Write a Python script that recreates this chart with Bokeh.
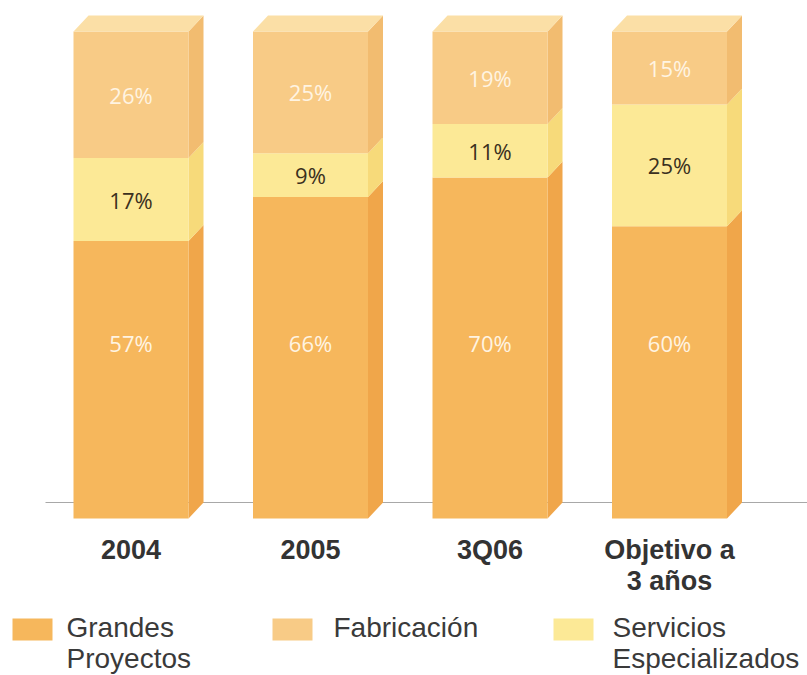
from bokeh.plotting import figure
from bokeh.models import Range1d
from bokeh.core.properties import value
from bokeh.embed import file_html
from bokeh.resources import INLINE

# ---- data ----
categories = ["2004", "2005", "3Q06", "Objetivo a\n3 años"]
grandes = [57, 66, 70, 60]
servicios = [17, 9, 11, 25]
fabricacion = [26, 25, 19, 15]
series_names = ["Grandes\nProyectos", "Fabricación", "Servicios\nEspecializados"]

# ---- styling / layout ----
W, H = 807, 675
PX_X = 179.5       # px per category step
X0 = 130.5         # px of first bar centre
PX_Y = 4.87        # px per percent
Y0 = 518           # px of 0 %

def X(px):
    return (px - X0) / PX_X

def Y(py):
    return (Y0 - py) / PX_Y

bar_w = 115 / PX_X
dx = 15 / PX_X
dy = 16 / PX_Y

front_cols = {"g": "#F6B75C", "s": "#FCE996", "f": "#F8CB86"}
side_cols = {"g": "#F0A64A", "s": "#F7DA7A", "f": "#F2BC70"}
top_col = "#FBDFA6"

p = figure(width=W, height=H, x_range=Range1d(X(0), X(W)), y_range=Range1d(Y(H), Y(0)),
           output_backend="svg", toolbar_location=None, min_border=0)
p.axis.visible = False
p.grid.visible = False
p.outline_line_color = None
p.background_fill_color = "white"

# baseline (back plane)
p.line([X(45), X(W)], [dy, dy], line_color="#A8A8A8", line_width=1.2)

xs = list(range(len(categories)))
stack = [("g", grandes), ("s", servicios), ("f", fabricacion)]
bottom = [0] * len(xs)
for key, vals in stack:
    tops = [b + v for b, v in zip(bottom, vals)]
    left = [x - bar_w / 2 for x in xs]
    right = [x + bar_w / 2 for x in xs]
    sx = [[r, r + dx, r + dx, r] for r in right]
    sy = [[b, b + dy, t + dy, t] for b, t in zip(bottom, tops)]
    p.patches(sx, sy, fill_color=side_cols[key], line_color=None)
    p.quad(left=left, right=right, bottom=bottom, top=tops,
           fill_color=front_cols[key], line_color=None)
    bottom = tops

# top faces
left = [x - bar_w / 2 for x in xs]
right = [x + bar_w / 2 for x in xs]
tx = [[l, r, r + dx, l + dx] for l, r in zip(left, right)]
ty = [[t, t, t + dy, t + dy] for t in bottom]
p.patches(tx, ty, fill_color=top_col, line_color=None)

# value labels
lab_font = value("Open Sans")
g_y = [36] * len(xs)
s_y = [g + s / 2 for g, s in zip(grandes, servicios)]
f_y = [g + s + f / 2 for g, s, f in zip(grandes, servicios, fabricacion)]
for ys, vals, col in [(g_y, grandes, "#FFF4E2"), (s_y, servicios, "#3A3020"),
                      (f_y, fabricacion, "#FFF4E2")]:
    p.text(xs, ys, text=[f"{v}%" for v in vals], text_font=lab_font, text_font_size="22px",
           text_color=col, text_align="center", text_baseline="middle")

# category labels (one glyph per line)
for li in range(2):
    lx, lt = [], []
    for x, c in zip(xs, categories):
        parts = c.split("\n")
        if li < len(parts):
            lx.append(x)
            lt.append(parts[li])
    p.text(lx, [Y(549 + li * 31)] * len(lx), text=lt,
           text_font=value("Liberation Sans"), text_font_style="bold",
           text_font_size="27px", text_color="#333333",
           text_align="center", text_baseline="alphabetic")

# legend
sw_x = [X(12), X(272), X(553)]
sw_w = 40 / PX_X
p.quad(left=sw_x, right=[s + sw_w for s in sw_x], top=[Y(618)] * 3, bottom=[Y(640)] * 3,
       fill_color=[front_cols["g"], front_cols["f"], front_cols["s"]], line_color=None)
leg_tx = [X(66), X(333), X(612)]
for li in range(2):
    lx, lt = [], []
    for x, s in zip(leg_tx, series_names):
        parts = s.split("\n")
        if li < len(parts):
            lx.append(x)
            lt.append(parts[li])
    p.text(lx, [Y(627 + li * 31)] * len(lx), text=lt,
           text_font=value("Liberation Sans"), text_font_size="28px", text_color="#3A3A3A",
           text_align="left", text_baseline="alphabetic")

open("out.html", "w").write(file_html(p, INLINE))
